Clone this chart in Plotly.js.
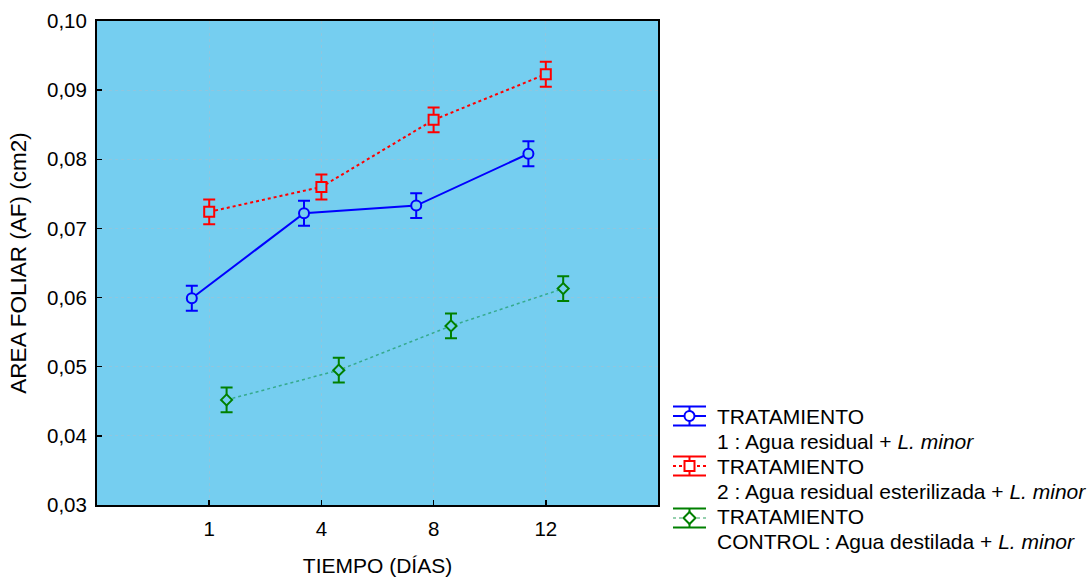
<!DOCTYPE html>
<html>
<head>
<meta charset="utf-8">
<script src="https://cdn.plot.ly/plotly-3.0.1.min.js"></script>
<style>html,body{margin:0;padding:0;background:#fff;}#chart{width:1092px;height:577px;}</style>
</head>
<body>
<div id="chart"></div>
<script>
var categories = ["1", "4", "8", "12"];
var seriesTitle = "TRATAMIENTO";
var seriesLabels = [
  "1 : Agua residual + <i>L. minor</i>",
  "2 : Agua residual esterilizada + <i>L. minor</i>",
  "CONTROL : Agua destilada + <i>L. minor</i>"
];
var trat1 = [0.0599, 0.0722, 0.0733, 0.0808];
var trat2 = [0.0724, 0.0760, 0.0857, 0.0923];
var control = [0.0452, 0.0495, 0.0559, 0.0613];
var err1 = [0.0018, 0.0018, 0.0018, 0.0018];
var err2 = [0.0018, 0.0018, 0.0018, 0.0018];
var errC = [0.0018, 0.0018, 0.0018, 0.0018];

var bg = "rgb(117,206,240)";
var fontFam = "Liberation Sans, Arial, sans-serif";
var colors = ["rgb(0,0,255)", "rgb(255,0,0)", "rgb(0,128,0)"];
var lineColors = ["rgb(0,0,255)", "rgb(255,0,0)", "rgba(0,140,60,0.55)"];
var lineDash = ["solid", "dot", "dot"];
var lineWidths = [2, 2, 1.5];
var symbols = ["circle", "square", "diamond"];
var symSizes = [10, 10, 8.5];

var catIndex = categories.map(function (c, i) { return i + 1; });
function shifted(d) { return catIndex.map(function (v) { return v + d; }); }

var data = [trat1, trat2, control];
var errs = [err1, err2, errC];
var offsets = [-0.155, 0, 0.155];

var traces = data.map(function (vals, k) {
  return {
    x: shifted(offsets[k]), y: vals, name: seriesTitle + " " + seriesLabels[k],
    type: "scatter", mode: "lines+markers", showlegend: false,
    line: {color: lineColors[k], width: lineWidths[k], dash: lineDash[k]},
    marker: {symbol: symbols[k], size: symSizes[k], color: bg, line: {color: colors[k], width: 2}},
    error_y: {type: "data", array: errs[k], visible: true, color: colors[k], thickness: 2, width: 6}
  };
});

var W = 1092, H = 577;
var mL = 97, mR = 434, mT = 21, mB = 72;
var pw = W - mL - mR, ph = H - mT - mB;
function px(x) { return (x - mL) / pw; }
function py(y) { return (H - mB - y) / ph; }

var shapes = [], annotations = [];
var rowCenters = [416, 466, 516];
for (var k = 0; k < 3; k++) {
  var cy = rowCenters[k] + (k === 2 ? 2 : 0);
  var cx = 689.5, x0 = 673, x1 = 706, cap = 9.5, r = 5;
  var ln = {color: colors[k], width: 2};
  shapes.push({type: "line", xref: "paper", yref: "paper", x0: px(x0), x1: px(x1), y0: py(cy - cap), y1: py(cy - cap), line: ln});
  shapes.push({type: "line", xref: "paper", yref: "paper", x0: px(x0), x1: px(x1), y0: py(cy + cap), y1: py(cy + cap), line: ln});
  shapes.push({type: "line", xref: "paper", yref: "paper", x0: px(cx), x1: px(cx), y0: py(cy - cap), y1: py(cy + cap), line: ln});
  shapes.push({type: "line", xref: "paper", yref: "paper", x0: px(x0), x1: px(x1), y0: py(cy), y1: py(cy),
    line: {color: lineColors[k], width: lineWidths[k], dash: lineDash[k]}});
  if (symbols[k] === "circle") {
    shapes.push({type: "circle", xref: "paper", yref: "paper", x0: px(cx - r), x1: px(cx + r), y0: py(cy - r), y1: py(cy + r),
      fillcolor: "#fff", line: ln});
  } else if (symbols[k] === "square") {
    shapes.push({type: "rect", xref: "paper", yref: "paper", x0: px(cx - r), x1: px(cx + r), y0: py(cy - r), y1: py(cy + r),
      fillcolor: "#fff", line: ln});
  } else {
    var d = 6;
    shapes.push({type: "path", xref: "paper", yref: "paper",
      path: "M " + px(cx) + " " + py(cy - d) + " L " + px(cx + d) + " " + py(cy) + " L " + px(cx) + " " + py(cy + d) + " L " + px(cx - d) + " " + py(cy) + " Z",
      fillcolor: "#fff", line: ln});
  }
  annotations.push({xref: "paper", yref: "paper", x: px(715), y: py(rowCenters[k] + 0.5), xanchor: "left", yanchor: "middle",
    text: seriesTitle, showarrow: false, font: {family: fontFam, size: 21, color: "#000"}});
  annotations.push({xref: "paper", yref: "paper", x: px(715), y: py(rowCenters[k] + 25.5), xanchor: "left", yanchor: "middle",
    text: seriesLabels[k], showarrow: false, font: {family: fontFam, size: 21, color: "#000"}});
}

var layout = {
  width: W, height: H,
  margin: {l: mL, r: mR, t: mT, b: mB, pad: 0},
  paper_bgcolor: "#ffffff",
  plot_bgcolor: bg,
  separators: ",.",
  font: {family: fontFam, size: 20, color: "#000"},
  showlegend: false,
  shapes: shapes,
  annotations: annotations,
  xaxis: {
    range: [0, 5],
    tickmode: "array", tickvals: catIndex, ticktext: categories,
    showline: true, linecolor: "#000", linewidth: 2, mirror: true,
    ticks: "inside", ticklen: 5, tickcolor: "#000", tickwidth: 1.5,
    ticklabelstandoff: 4,
    tickfont: {size: 20.5},
    showgrid: true, gridcolor: "rgba(170,190,205,0.5)", griddash: "dot", gridwidth: 1,
    zeroline: false,
    title: {text: "TIEMPO (DÍAS)", standoff: 20, font: {size: 21}}
  },
  yaxis: {
    range: [0.03, 0.10],
    tickmode: "linear", tick0: 0.03, dtick: 0.01, tickformat: ".2f",
    showline: true, linecolor: "#000", linewidth: 2, mirror: true,
    ticks: "inside", ticklen: 5, tickcolor: "#000", tickwidth: 1.5,
    ticklabelstandoff: 4,
    tickfont: {size: 20.5},
    showgrid: true, gridcolor: "rgba(170,190,205,0.5)", griddash: "dot", gridwidth: 1,
    zeroline: false,
    title: {text: "AREA FOLIAR (AF) (cm2)", standoff: 14, font: {size: 22.5}}
  }
};

Plotly.newPlot("chart", traces, layout, {displayModeBar: false, staticPlot: true});
</script>
</body>
</html>
